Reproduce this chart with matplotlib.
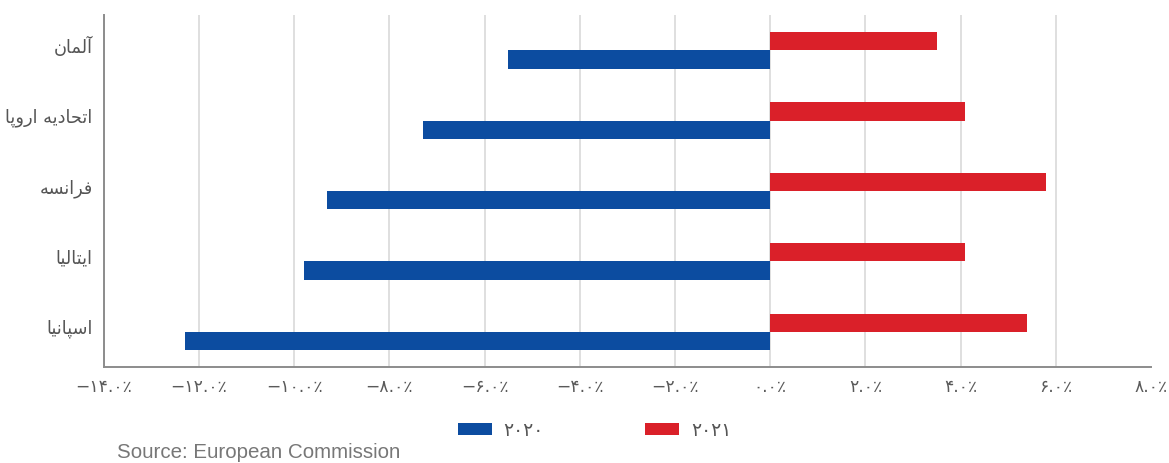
import matplotlib
matplotlib.use("Agg")
import matplotlib.pyplot as plt
import matplotlib.transforms as mtransforms
import numpy as np

# GDP growth forecasts (percent)
countries = ["آلمان", "اتحادیه اروپا", "فرانسه", "ایتالیا", "اسپانیا"]
growth_2020 = [-5.5, -7.3, -9.3, -9.8, -12.3]
growth_2021 = [3.5, 4.1, 5.8, 4.1, 5.4]
series_labels = ["2020", "2021"]
x_ticks = [-14, -12, -10, -8, -6, -4, -2, 0, 2, 4, 6, 8]
source_note = "Source: European Commission"

BLUE = "#0c4ca0"
RED = "#da2029"

# Contextual forms (isolated, final, initial, medial) for the letters used
FORMS = {
    "ا": ("\uFE8D", "\uFE8E", None, None),
    "آ": ("\uFE81", "\uFE82", None, None),
    "د": ("\uFEA9", "\uFEAA", None, None),
    "ر": ("\uFEAD", "\uFEAE", None, None),
    "و": ("\uFEED", "\uFEEE", None, None),
    "ل": ("\uFEDD", "\uFEDE", "\uFEDF", "\uFEE0"),
    "م": ("\uFEE1", "\uFEE2", "\uFEE3", "\uFEE4"),
    "ن": ("\uFEE5", "\uFEE6", "\uFEE7", "\uFEE8"),
    "ت": ("\uFE95", "\uFE96", "\uFE97", "\uFE98"),
    "ح": ("\uFEA1", "\uFEA2", "\uFEA3", "\uFEA4"),
    "ی": ("\uFBFC", "\uFBFD", "\uFBFE", "\uFBFF"),
    "ه": ("\uFEE9", "\uFEEA", "\uFEEB", "\uFEEC"),
    "پ": ("\uFB56", "\uFB57", "\uFB58", "\uFB59"),
    "ف": ("\uFED1", "\uFED2", "\uFED3", "\uFED4"),
    "س": ("\uFEB1", "\uFEB2", "\uFEB3", "\uFEB4"),
}


def shape_rtl(text):
    """Join Persian letters into their contextual forms, in visual order."""
    out = []
    for i, ch in enumerate(text):
        if ch not in FORMS:
            out.append(ch)
            continue
        prev = text[i - 1] if i > 0 else None
        nxt = text[i + 1] if i + 1 < len(text) else None
        isol, fina, init, medi = FORMS[ch]
        join_prev = prev in FORMS and FORMS[prev][2] is not None
        join_next = nxt in FORMS and init is not None
        if join_prev and join_next:
            out.append(medi)
        elif join_prev:
            out.append(fina)
        elif join_next:
            out.append(init)
        else:
            out.append(isol)
    return "".join(reversed(out))


FA_DIGITS = str.maketrans("0123456789-%", "۰۱۲۳۴۵۶۷۸۹−٪")


def fa_num(s):
    return s.translate(FA_DIGITS)


fig = plt.figure(figsize=(11.69, 4.63), dpi=100)
ax = fig.add_axes([0.0887, 0.2073, 0.8959, 0.7603])

y = np.arange(len(countries))
bar_h = 0.26
ax.barh(y - bar_h / 2, growth_2021, height=bar_h, color=RED, zorder=3,
        label=fa_num(series_labels[1]))
ax.barh(y + bar_h / 2, growth_2020, height=bar_h, color=BLUE, zorder=3,
        label=fa_num(series_labels[0]))

ax.set_ylim(len(countries) - 0.5, -0.5)
ax.set_xlim(x_ticks[0], x_ticks[-1])
ax.set_xticks(x_ticks)
ax.set_xticklabels([fa_num(f"{v:.1f}%") for v in x_ticks],
                   fontsize=12.3, color="#5a5a5a", family="DejaVu Sans")
ax.set_yticks(y)
ax.set_yticklabels([shape_rtl(c) for c in countries], fontsize=12.8,
                   color="#555555", family="DejaVu Sans")
ax.tick_params(axis="both", length=0)
ax.tick_params(axis="x", pad=8)
ax.tick_params(axis="y", pad=8)

# lift the category names slightly above the bar pair
lift = mtransforms.ScaledTranslation(0, 5 / 100, fig.dpi_scale_trans)
for lbl in ax.get_yticklabels():
    lbl.set_transform(lbl.get_transform() + lift)

ax.grid(axis="x", color="#dcdcdc", linewidth=1.3, zorder=0)
ax.xaxis.get_gridlines()[-1].set_visible(False)
ax.set_axisbelow(True)
for side in ("top", "right"):
    ax.spines[side].set_visible(False)
for side in ("left", "bottom"):
    ax.spines[side].set_color("#8c8c8c")
    ax.spines[side].set_linewidth(1.4)

handles, labels = ax.get_legend_handles_labels()
leg = fig.legend(handles[::-1], labels[::-1], loc="center",
                 bbox_to_anchor=(0.5086, 0.071), ncol=2, frameon=False,
                 fontsize=13.5, handlelength=1.81, handleheight=0.53,
                 handletextpad=0.64, columnspacing=5.4)
for t in leg.get_texts():
    t.set_color("#555555")
    t.set_family("DejaVu Sans")

fig.text(0.1, 0.003, source_note, fontsize=14.8, color="#777777",
         family="Liberation Sans", ha="left", va="bottom")

fig.savefig("out.png", dpi=100)
